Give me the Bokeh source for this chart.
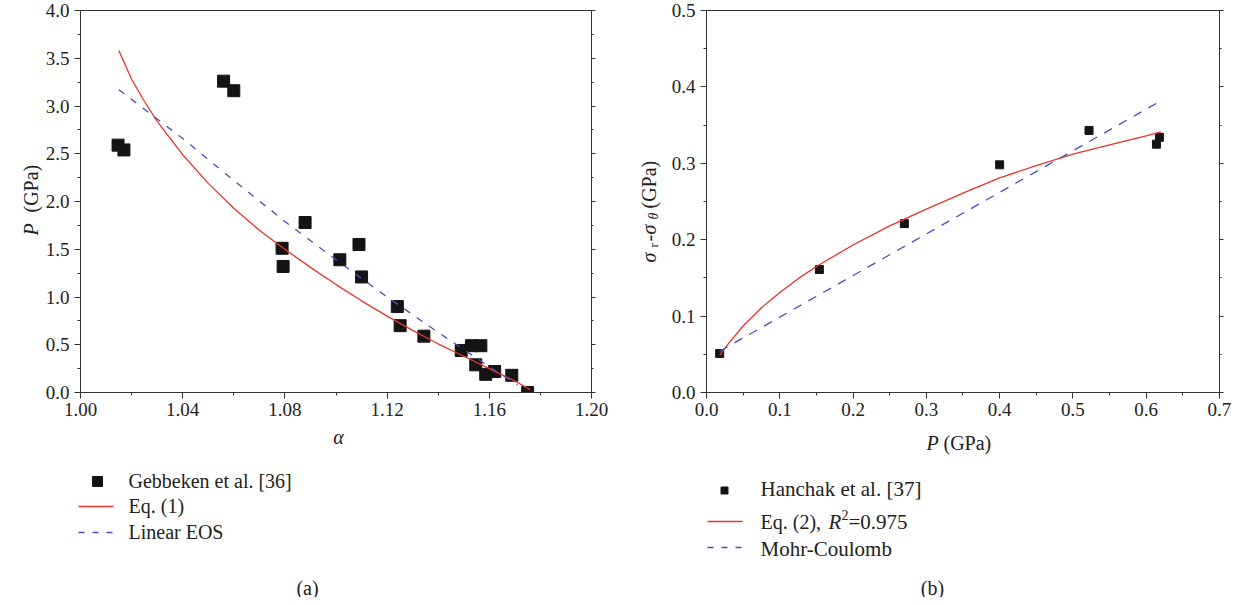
import math
from bokeh.plotting import figure
from bokeh.models import (Range1d, LinearAxis, SingleIntervalTicker,
                          PrintfTickFormatter, CustomJSTickFormatter)
from bokeh.layouts import row, column
from bokeh.core.properties import value
from bokeh.embed import file_html
from bokeh.resources import INLINE

# ---------------- data (a) ----------------
alpha_exp = [1.0147, 1.0170, 1.056, 1.060, 1.0789, 1.0793, 1.0879, 1.1015, 1.109,
             1.110, 1.124, 1.1251, 1.1344, 1.149, 1.153, 1.1567, 1.1547, 1.1586,
             1.1621, 1.1688, 1.175]
p_exp = [2.59, 2.54, 3.26, 3.16, 1.51, 1.32, 1.78, 1.39, 1.55, 1.21, 0.90, 0.70,
         0.59, 0.44, 0.49, 0.49, 0.29, 0.19, 0.22, 0.18, 0.00]
alpha_eq1 = [1.015, 1.02, 1.025, 1.03, 1.04, 1.05, 1.06, 1.07, 1.08, 1.09, 1.10,
             1.11, 1.12, 1.13, 1.14, 1.15, 1.16, 1.17, 1.176]
p_eq1 = [3.58, 3.28, 3.05, 2.84, 2.49, 2.19, 1.93, 1.70, 1.50, 1.31, 1.13, 0.96,
         0.80, 0.65, 0.51, 0.38, 0.25, 0.12, 0.03]
alpha_lin = [1.015, 1.04, 1.06, 1.08, 1.10, 1.12, 1.14, 1.16, 1.171]
p_lin = [3.17, 2.66, 2.22, 1.79, 1.39, 1.00, 0.63, 0.27, 0.08]

# ---------------- data (b) ----------------
p_han = [0.018, 0.154, 0.270, 0.400, 0.522, 0.614, 0.618]
s_han = [0.051, 0.161, 0.221, 0.298, 0.343, 0.325, 0.334]
p_eq2 = [0.018, 0.03, 0.05, 0.075, 0.10, 0.125, 0.15, 0.20, 0.25, 0.30, 0.35,
         0.40, 0.45, 0.50, 0.55, 0.60, 0.62]
s_eq2 = [0.049, 0.064, 0.087, 0.111, 0.131, 0.149, 0.165, 0.193, 0.218, 0.240,
         0.261, 0.281, 0.297, 0.312, 0.324, 0.336, 0.341]
p_mc = [0.018, 0.615]
s_mc = [0.054, 0.379]

# legend texts
legend_a = ["Gebbeken et al. [36]", "Eq. (1)", "Linear EOS"]
legend_b = ["Hanchak et al. [37]", "Mohr-Coulomb"]

FONT = "Liberation Serif"
RED = "#e8342c"
BLUE = "#4b4fb4"
SQ = "#141414"
AX = "#333333"
TXT = "#222222"

TOP_H = 426     # height of plotting row
BOT_H = 171     # height of legend/caption strip
BT, BB = 10, 34  # top/bottom borders of the plotting row


def style_axes(p, xint, yint, xfmt, yfmt):
    p.xaxis.ticker = SingleIntervalTicker(interval=xint, num_minor_ticks=2)
    p.yaxis.ticker = SingleIntervalTicker(interval=yint, num_minor_ticks=2)
    p.xaxis.formatter = PrintfTickFormatter(format=xfmt)
    p.yaxis.formatter = PrintfTickFormatter(format=yfmt)
    for ax in list(p.xaxis) + list(p.yaxis):
        ax.axis_line_color = AX
        ax.major_tick_line_color = AX
        ax.minor_tick_line_color = AX
        ax.major_tick_in = 0
        ax.minor_tick_in = 0
        ax.major_tick_out = 6
        ax.minor_tick_out = 3
        ax.major_label_text_font = FONT
        ax.major_label_text_font_size = "19px"
        ax.major_label_text_color = TXT
    p.xaxis.major_label_standoff = 4
    p.yaxis.major_label_standoff = 5
    ra = LinearAxis(ticker=SingleIntervalTicker(interval=yint, num_minor_ticks=2),
                    formatter=CustomJSTickFormatter(code="return ''"),
                    axis_line_color=AX, major_tick_line_color=AX,
                    minor_tick_line_color=AX, major_tick_in=0, minor_tick_in=0,
                    major_tick_out=4, minor_tick_out=2, major_label_standoff=0)
    p.add_layout(ra, "right")
    p.xgrid.visible = False
    p.ygrid.visible = False
    p.outline_line_color = AX
    p.outline_line_width = 1


def plotfig(w, bl, fw, xr, yr):
    p = figure(width=w, height=TOP_H, x_range=Range1d(*xr), y_range=Range1d(*yr),
               output_backend="svg", toolbar_location=None,
               min_border_left=bl, min_border_right=w - bl - fw,
               min_border_top=BT, min_border_bottom=BB)
    p.background_fill_color = "white"
    p.border_fill_color = "white"
    return p


class Aux:
    """blank figure whose data units are page pixels (inside its frame)"""

    def __init__(self, x0, y0, w, h, bt=0, bb=0):
        self.x0 = x0
        self.ybot = y0 + h - bb          # page y of frame bottom
        fh = h - bt - bb
        self.p = figure(width=w, height=h, x_range=Range1d(0, w),
                        y_range=Range1d(0, fh), x_axis_type=None, y_axis_type=None,
                        min_border=0, min_border_left=0, min_border_right=0,
                        min_border_top=bt, min_border_bottom=bb,
                        output_backend="svg", toolbar_location=None)
        self.p.outline_line_color = None
        self.p.xgrid.visible = False
        self.p.ygrid.visible = False
        self.p.background_fill_color = "white"
        self.p.border_fill_color = "white"

    def c(self, px, py):
        return px - self.x0, self.ybot - py

    def text(self, px, py, s, size="20px", style="normal", align="left",
             baseline="middle", angle=0.0):
        x, y = self.c(px, py)
        self.p.text(x=[x], y=[y], text=[s], text_font=value(FONT),
                    text_font_size=value(size), text_font_style=style,
                    text_align=align, text_baseline=baseline, angle=angle,
                    text_color=TXT)

    def seg(self, px0, px1, py, color, dash="solid"):
        x0, y = self.c(px0, py)
        x1, _ = self.c(px1, py)
        self.p.line([x0, x1], [y, y], line_color=color, line_width=1.3,
                    line_dash=dash)

    def square(self, px, py, size):
        x, y = self.c(px, py)
        self.p.scatter([x], [y], marker="square", size=size, fill_color=SQ,
                       line_color=SQ)


R = math.pi / 2

# ---------------- panel (a) ----------------
fa = plotfig(578, 37, 512, (1.0, 1.2), (0.0, 4.0))
style_axes(fa, 0.04, 0.5, "%.2f", "%.1f")
fa.scatter(alpha_exp, p_exp, marker="square", size=12, fill_color=SQ, line_color=SQ)
fa.line(alpha_eq1, p_eq1, line_color=RED, line_width=1.3)
fa.line(alpha_lin, p_lin, line_color=BLUE, line_width=1.3, line_dash="7 8")

ta = Aux(0, 0, 42, TOP_H, BT, BB)
ta.text(30, 235, "P", style="italic", baseline="alphabetic", angle=R)
ta.text(30, 212, "(GPa)", baseline="alphabetic", angle=R)

ba = Aux(0, TOP_H, 620, BOT_H)
ba.text(338, 436, "α", style="italic", align="center")
ba.square(97, 481, 10)
ba.seg(78, 113, 506, RED)
ba.seg(78, 113, 532, BLUE, "6 8")
ba.text(128, 480, legend_a[0])
ba.text(128, 505, legend_a[1])
ba.text(128, 531, legend_a[2])
ba.text(307, 587, "(a)", align="center")

# ---------------- panel (b) ----------------
fb = plotfig(577, 40, 513, (0.0, 0.70001), (0.0, 0.5))
style_axes(fb, 0.1, 0.1, "%.1f", "%.1f")
fb.scatter(p_han, s_han, marker="square", size=8, fill_color=SQ, line_color=SQ)
fb.line(p_eq2, s_eq2, line_color=RED, line_width=1.3)
fb.line(p_mc, s_mc, line_color=BLUE, line_width=1.3, line_dash="9 8")

tb = Aux(620, 0, 46, TOP_H, BT, BB)
tb.text(648, 262, "σ", style="italic", baseline="alphabetic", angle=R)
tb.text(653, 247, "r", size="13px", baseline="alphabetic", angle=R)
tb.text(648, 241, "-", baseline="alphabetic", angle=R)
tb.text(648, 234, "σ", style="italic", baseline="alphabetic", angle=R)
tb.text(653, 219, "θ", size="14px", style="italic", baseline="alphabetic", angle=R)
tb.text(648, 208, "(GPa)", baseline="alphabetic", angle=R)

bb = Aux(620, TOP_H, 623, BOT_H)
bb.text(926, 442, "P", style="italic")
bb.text(943, 442, "(GPa)")
bb.square(724, 490, 7)
bb.seg(707, 742, 521, RED)
bb.seg(707, 742, 547, BLUE, "6 8")
bb.text(760, 488, legend_b[0], size="21px")
bb.text(760, 521, "Eq. (2),", size="20px")
bb.text(828, 521, "R", size="21px", style="italic")
bb.text(841, 514, "2", size="14px")
bb.text(848, 521, "=0.975", size="21px")
bb.text(760, 548, legend_b[1], size="21px")
bb.text(932, 587, "(b)", align="center")

layout = row(column(row(ta.p, fa), ba.p), column(row(tb.p, fb), bb.p))
open("out.html", "w").write(file_html(layout, INLINE))
